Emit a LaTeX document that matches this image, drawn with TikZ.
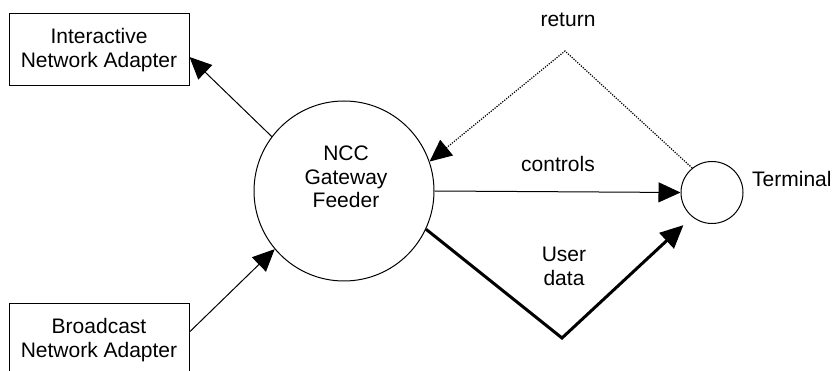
\documentclass[tikz,border=0pt]{standalone}
\usepackage{fontspec}
\setmainfont{Liberation Sans}
\usetikzlibrary{arrows.meta,calc}
\begin{document}
\begin{tikzpicture}[x=1pt,y=-1pt,
  every node/.style={font=\fontsize{21}{23.5}\selectfont},
  boxnode/.style={draw, line width=1pt, minimum width=180pt, minimum height=72pt, align=center, inner sep=0pt},
  bigcirc/.style={draw, circle, line width=1pt, minimum size=180pt, inner sep=0pt},
  smallcirc/.style={draw, circle, line width=1pt, minimum size=62pt, inner sep=0pt},
  thinarrow/.style={line width=1pt, -{Triangle[length=22pt,width=20pt]}},
  thickarrow/.style={line width=3pt, -{Triangle[length=23pt,width=21pt]}},
  dotarrow/.style={line width=1.2pt, dash pattern=on 1.2pt off 1.3pt, -{Triangle[length=22pt,width=20pt]}},
  lbl/.style={inner sep=0pt}]
\useasboundingbox (0,0) rectangle (836,371);
\node[boxnode] (ina) at (99,50) {Interactive\\Network Adapter};
\node[boxnode] (bna) at (99,340) {Broadcast\\Network Adapter};
\node[bigcirc] (gw) at (344,191) {};
\node[lbl, align=center, anchor=north] (gwtext) at (346,146) {NCC\\Gateway\\Feeder};
\node[smallcirc] (term) at (712,192.5) {};
\node[lbl, anchor=base west] (termlbl) at (752,187) {Terminal};
\node[lbl, anchor=base] (retlbl) at (568,27) {return};
\node[lbl, anchor=base] (ctllbl) at (558,172) {controls};
\node[lbl, align=center, anchor=north] (udlbl) at (564,247.3) {User\\data};
\coordinate (peak) at (565,51);
\coordinate (bend) at (562,338);
\draw[thinarrow] (gw.143) -- ($(ina.east)+(0,7)$);
\draw[thinarrow] ($(bna.east)+(0,-8)$) -- (gw.220);
\draw[thinarrow] (gw.east) -- (term.west);
\draw[dotarrow] (term.129) -- (peak) -- (gw.19);
\draw[thickarrow, shorten >=12pt] (gw.-25) -- (bend) -- (term.231);
\end{tikzpicture}
\end{document}
